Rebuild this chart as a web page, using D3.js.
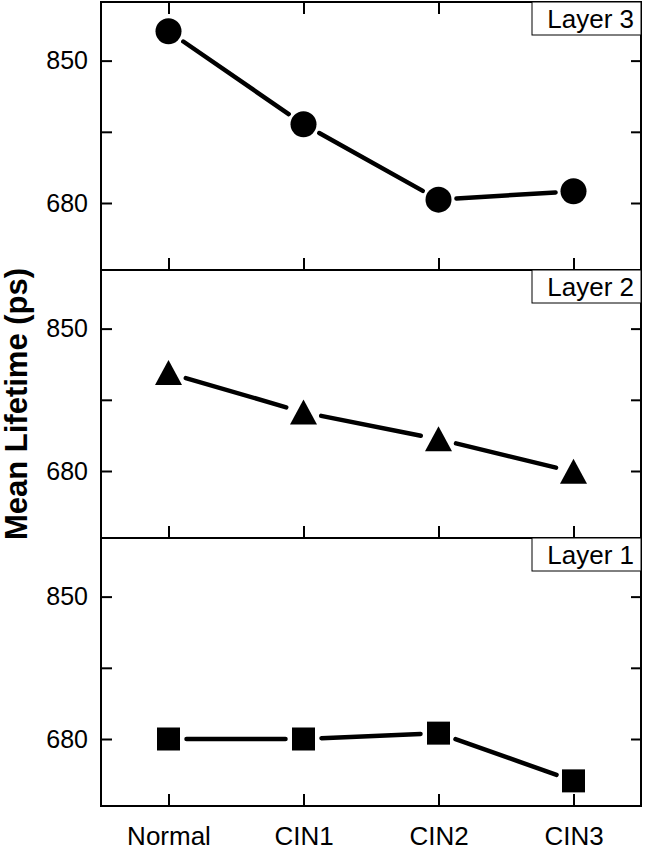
<!DOCTYPE html>
<html>
<head>
<meta charset="UTF-8">
<title>Mean Lifetime</title>
<script src="https://d3js.org/d3.v7.min.js"></script>
<style>
 body { margin: 0; background: #fff; }
 text { font-family: "Liberation Sans", Arial, sans-serif; }
</style>
</head>
<body>
<svg id="chart" width="645" height="852"></svg>
<script>
// data
var groups = ["Normal", "CIN1", "CIN2", "CIN3"];
var layerNames = ["Layer 3", "Layer 2", "Layer 1"];
var layer3 = [885, 774, 684, 694];
var layer2 = [797, 750, 718, 679];
var layer1 = [680, 680, 687, 630];
var yTicks = [680, 765, 850];
var yLabelled = [680, 850];
var yDomain = [600, 920];

var plotLeft = 101, plotRight = 641, plotTop = 2, plotBottom = 806;
var panelH = (plotBottom - plotTop) / 3;

var svg = d3.select("#chart");

var x = d3.scalePoint().domain(groups).range([plotLeft, plotRight]).padding(0.5);

var panels = [
  {name: layerNames[0], values: layer3, shape: "circle"},
  {name: layerNames[1], values: layer2, shape: "triangle"},
  {name: layerNames[2], values: layer1, shape: "square"}
];

panels.forEach(function(p, i) {
  var y0 = plotTop + i * panelH, y1 = y0 + panelH;
  var y = d3.scaleLinear().domain(yDomain).range([y1, y0]);
  var g = svg.append("g");

  // left axis, ticks inward
  var yl = g.append("g").attr("transform", "translate(" + plotLeft + ",0)")
    .call(d3.axisLeft(y).tickValues(yTicks).tickSize(-11).tickSizeOuter(0).tickPadding(13)
      .tickFormat(function(d) { return yLabelled.indexOf(d) >= 0 ? d : ""; }));
  yl.selectAll(".tick text").style("font-size", "25px");
  // right axis
  g.append("g").attr("transform", "translate(" + plotRight + ",0)")
    .call(d3.axisRight(y).tickValues(yTicks).tickSize(-10).tickSizeOuter(0).tickFormat(""));
  // bottom ticks
  var xb = g.append("g").attr("transform", "translate(0," + y1 + ")")
    .call(d3.axisBottom(x).tickSize(-12).tickSizeOuter(0).tickPadding(21)
      .tickFormat(i == 2 ? null : ""));
  xb.selectAll(".tick text").style("font-size", "26px");
  if (i == 0) {
    g.append("g").attr("transform", "translate(0," + y0 + ")")
      .call(d3.axisTop(x).tickSize(-12).tickSizeOuter(0).tickFormat(""));
  }
  g.selectAll(".domain").remove();
  g.selectAll(".tick line").attr("stroke", "#000").attr("stroke-width", 2);
  g.selectAll(".tick text").attr("fill", "#000");

  // frame
  g.append("rect").attr("x", plotLeft).attr("y", y0).attr("width", plotRight - plotLeft).attr("height", panelH)
    .attr("fill", "none").attr("stroke", "#000").attr("stroke-width", 2);

  // connecting line, trimmed at the markers
  var pts = p.values.map(function(v, j) { return [x(groups[j]), y(v)]; });
  var gap = 18;
  for (var k = 0; k < pts.length - 1; k++) {
    var a = pts[k], b = pts[k + 1];
    var dx = b[0] - a[0], dy = b[1] - a[1], len = Math.sqrt(dx * dx + dy * dy);
    var ux = dx / len, uy = dy / len;
    g.append("line")
      .attr("x1", a[0] + ux * gap).attr("y1", a[1] + uy * gap)
      .attr("x2", b[0] - ux * gap).attr("y2", b[1] - uy * gap)
      .attr("stroke", "#000").attr("stroke-width", 4.5).attr("stroke-linecap", "round");
  }

  // markers
  var m = g.selectAll(".mk").data(pts).enter();
  if (p.shape == "circle") {
    m.append("circle").attr("cx", function(d) { return d[0]; }).attr("cy", function(d) { return d[1]; })
      .attr("r", 13).attr("fill", "#000");
  } else if (p.shape == "triangle") {
    m.append("path").attr("d", function(d) {
      return "M" + d[0] + "," + (d[1] - 13) + "L" + (d[0] + 13.5) + "," + (d[1] + 12) +
        "L" + (d[0] - 13.5) + "," + (d[1] + 12) + "Z";
    }).attr("fill", "#000");
  } else {
    m.append("rect").attr("x", function(d) { return d[0] - 11.5; }).attr("y", function(d) { return d[1] - 11.5; })
      .attr("width", 23).attr("height", 23).attr("fill", "#000");
  }

  // layer label box
  g.append("rect").attr("x", 532).attr("y", y0).attr("width", plotRight - 532).attr("height", 33)
    .attr("fill", "#fff").attr("stroke", "#000").attr("stroke-width", 1);
  g.append("text").attr("x", 634).attr("y", y0 + 26).attr("text-anchor", "end")
    .style("font-size", "26px").attr("fill", "#000").text(p.name);
});

// y axis title
svg.append("text")
  .attr("transform", "translate(27," + ((plotTop + plotBottom) / 2) + ") rotate(-90)")
  .attr("text-anchor", "middle")
  .style("font-size", "31px").style("font-weight", "bold").attr("fill", "#000")
  .text("Mean Lifetime (ps)");
</script>
</body>
</html>
